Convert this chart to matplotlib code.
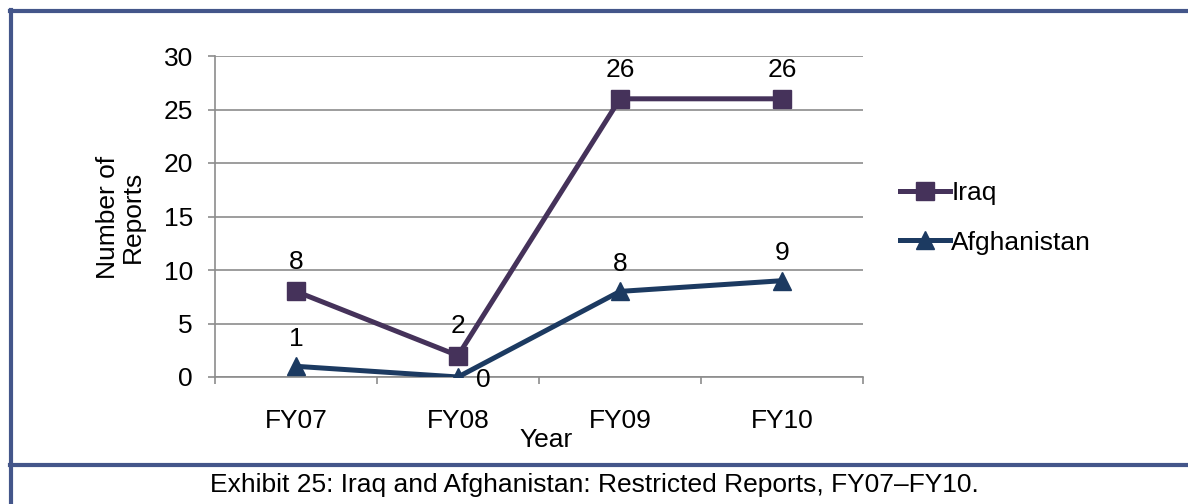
import matplotlib
matplotlib.use("Agg")
import matplotlib.pyplot as plt
from matplotlib.lines import Line2D

years = ["FY07", "FY08", "FY09", "FY10"]
iraq = [8, 2, 26, 26]
afghanistan = [1, 0, 8, 9]
yticks = [0, 5, 10, 15, 20, 25, 30]

plt.rcParams['font.family'] = ['Liberation Sans', 'DejaVu Sans']
FS = 19

fig = plt.figure(figsize=(11.88, 5.04), dpi=100)
W, H = 1188, 504

def fx(px):
    return px / W

def fy(py):
    return 1 - py / H

ax = fig.add_axes([fx(215), fy(377), fx(863) - fx(215), fy(56) - fy(377)])

c_iraq = "#45325a"
c_afg = "#1c3a61"
x = list(range(len(years)))
LW, MS = 3.6, 13

ax.plot(x, iraq, color=c_iraq, lw=LW, marker='s', ms=MS, label="Iraq", zorder=3)
ax.plot(x, afghanistan, color=c_afg, lw=LW, marker='^', ms=MS, label="Afghanistan", zorder=3)

for i, v in enumerate(iraq):
    ax.annotate(str(v), (i, v), xytext=(0, 21), textcoords='offset points',
                ha='center', va='center', fontsize=FS)
for i, v in enumerate(afghanistan):
    if v == 0:
        ax.annotate(str(v), (i, v), xytext=(18, -2), textcoords='offset points',
                    ha='center', va='center', fontsize=FS)
    else:
        ax.annotate(str(v), (i, v), xytext=(0, 20), textcoords='offset points',
                    ha='center', va='center', fontsize=FS)

ax.set_xlim(-0.5, 3.5)
ax.set_ylim(0, 30)
ax.set_yticks(yticks)
ax.set_yticklabels([str(t) for t in yticks], fontsize=FS)
ax.set_xticks(x)
ax.set_xticklabels(years, fontsize=FS)
ax.set_xticks([-0.5, 0.5, 1.5, 2.5, 3.5], minor=True)
ax.tick_params(axis='x', which='major', length=0, pad=23)
ax.tick_params(axis='x', which='minor', length=5, color='#8c8c8c', width=1.2, direction='out')
ax.tick_params(axis='y', length=5, color='#8c8c8c', width=1.2, pad=11)
ax.yaxis.grid(True, color='#8c8c8c', lw=1.2)
ax.set_axisbelow(True)
for s in ['top', 'right']:
    ax.spines[s].set_visible(False)
for s in ['left', 'bottom']:
    ax.spines[s].set_color('#8c8c8c')
    ax.spines[s].set_linewidth(1.2)

fig.text(fx(546), fy(440), "Year", fontsize=FS, ha='center', va='center')
fig.text(fx(120), fy(217), "Number of\nReports", fontsize=FS, ha='center', va='center',
         rotation=90, linespacing=1.05)

handles = [Line2D([], [], color=c_iraq, lw=LW, marker='s', ms=MS),
           Line2D([], [], color=c_afg, lw=LW, marker='^', ms=MS)]
fig.legend(handles, ["Iraq", "Afghanistan"], loc='center left',
           bbox_to_anchor=(fx(876), fy(218)), frameon=False, fontsize=FS,
           handlelength=1.9, handletextpad=0.05, labelspacing=0.95)

# frame
fc = "#44568a"
fig.add_artist(Line2D([fx(11), fx(11)], [fy(10), 0], color=fc, lw=3, transform=fig.transFigure))
fig.add_artist(Line2D([fx(10), fx(1188)], [fy(10.5), fy(10.5)], color=fc, lw=3, transform=fig.transFigure))
fig.add_artist(Line2D([fx(10), fx(1188)], [fy(465), fy(465)], color=fc, lw=3, transform=fig.transFigure))

fig.text(0.5, fy(485), "Exhibit 25: Iraq and Afghanistan: Restricted Reports, FY07\u2013FY10.",
         fontsize=FS, ha='center', va='center')

fig.savefig("out.png", dpi=100)
